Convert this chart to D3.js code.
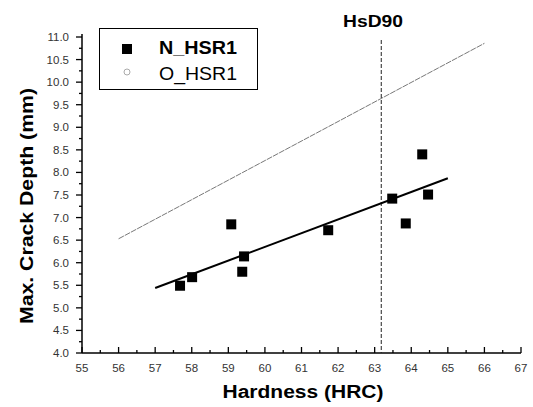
<!DOCTYPE html>
<html><head><meta charset="utf-8">
<script src="https://cdn.jsdelivr.net/npm/d3@7"></script>
<style>body{margin:0;background:#fff}svg{display:block}</style>
</head><body>
<script>
const hardness = [57.68, 58.01, 59.08, 59.38, 59.43, 61.73, 63.48, 63.85, 64.30, 64.46];
const crackDepth = [5.49, 5.68, 6.85, 5.80, 6.14, 6.72, 7.42, 6.87, 8.40, 7.51];
const fitX = [57, 65];
const fitY = [5.44, 7.87];
const oFitX = [56, 66];
const oFitY = [6.53, 10.86];
const hsd90 = 63.18;
const xTicks = [55,56,57,58,59,60,61,62,63,64,65,66,67];
const yTicks = [4.0,4.5,5.0,5.5,6.0,6.5,7.0,7.5,8.0,8.5,9.0,9.5,10.0,10.5,11.0];

const W = 533, H = 407;
const FF = "Liberation Sans, Arial, sans-serif";
const svg = d3.select("body").append("svg").attr("width", W).attr("height", H);
const x = d3.scaleLinear().domain([55, 67]).range([82, 521]);
const y = d3.scaleLinear().domain([4, 11]).range([353, 37]);

// x axis (ticks inward)
const gx = svg.append("g").attr("transform", "translate(0,353)");
gx.append("line").attr("x1", x(55)).attr("x2", x(67)).attr("stroke", "#000").attr("stroke-width", 1.5);
d3.range(55, 67.01, 0.5).forEach(v => {
  const major = Math.abs(v - Math.round(v)) < 1e-6;
  gx.append("line").attr("x1", x(v)).attr("x2", x(v)).attr("y1", 0).attr("y2", major ? -6 : -3)
    .attr("stroke", "#000").attr("stroke-width", 1.3);
});
gx.selectAll("text.xt").data(xTicks).join("text").attr("class","xt")
  .attr("x", d => x(d)).attr("y", 19).attr("text-anchor", "middle")
  .attr("font-family", FF).attr("font-size", 11.5).attr("fill", "#333")
  .text(d => d);

// y axis (ticks outward)
const gy = svg.append("g");
gy.append("line").attr("x1", 82).attr("x2", 82).attr("y1", 353).attr("y2", 34).attr("stroke", "#000").attr("stroke-width", 1.5);
d3.range(4, 11.01, 0.25).forEach(v => {
  const major = Math.abs(v * 2 - Math.round(v * 2)) < 1e-6;
  gy.append("line").attr("x1", 82).attr("x2", major ? 76 : 79).attr("y1", y(v)).attr("y2", y(v))
    .attr("stroke", "#000").attr("stroke-width", 1.3);
});
gy.selectAll("text.yt").data(yTicks).join("text").attr("class","yt")
  .attr("x", 69).attr("y", d => y(d) + 4).attr("text-anchor", "end")
  .attr("font-family", FF).attr("font-size", 11.5).attr("fill", "#333")
  .text(d => d.toFixed(1));

// titles
svg.append("text").attr("x", 303).attr("y", 398).attr("text-anchor", "middle")
  .attr("font-family", FF).attr("font-weight", "bold").attr("font-size", 18)
  .attr("textLength", 161).attr("lengthAdjust", "spacingAndGlyphs")
  .text("Hardness (HRC)");
svg.append("text").attr("transform", "translate(33,206) rotate(-90)").attr("text-anchor", "middle")
  .attr("font-family", FF).attr("font-weight", "bold").attr("font-size", 18)
  .attr("textLength", 236).attr("lengthAdjust", "spacingAndGlyphs")
  .text("Max. Crack Depth (mm)");

// O_HSR1 fit line
svg.append("line").attr("x1", x(oFitX[0])).attr("y1", y(oFitY[0])).attr("x2", x(oFitX[1])).attr("y2", y(oFitY[1]))
  .attr("stroke", "#555").attr("stroke-width", 0.8).attr("stroke-dasharray", "6,1");

// HsD90 vertical line
svg.append("line").attr("x1", x(hsd90)).attr("x2", x(hsd90)).attr("y1", 40).attr("y2", 353)
  .attr("stroke", "#222").attr("stroke-width", 1).attr("stroke-dasharray", "4,2");
svg.append("text").attr("x", 373).attr("y", 27).attr("text-anchor", "middle")
  .attr("font-family", FF).attr("font-weight", "bold").attr("font-size", 17)
  .attr("textLength", 60).attr("lengthAdjust", "spacingAndGlyphs")
  .text("HsD90");

// N_HSR1 fit
svg.append("line").attr("x1", x(fitX[0])).attr("y1", y(fitY[0])).attr("x2", x(fitX[1])).attr("y2", y(fitY[1]))
  .attr("stroke", "#000").attr("stroke-width", 2);

// points
const s = 10;
svg.selectAll("rect.pt").data(hardness).join("rect").attr("class", "pt")
  .attr("x", (d) => x(d) - s/2).attr("y", (d, i) => y(crackDepth[i]) - s/2)
  .attr("width", s).attr("height", s).attr("fill", "#000");

// legend
svg.append("rect").attr("x", 99.5).attr("y", 28.5).attr("width", 158).attr("height", 61)
  .attr("fill", "#fff").attr("stroke", "#000").attr("stroke-width", 1);
svg.append("rect").attr("x", 122).attr("y", 44).attr("width", 10).attr("height", 10).attr("fill", "#000");
svg.append("circle").attr("cx", 127).attr("cy", 72).attr("r", 3).attr("fill", "none").attr("stroke", "#aaa").attr("stroke-width", 1);
svg.append("text").attr("x", 159).attr("y", 54).attr("font-family", FF)
  .attr("font-weight", "bold").attr("font-size", 18)
  .attr("textLength", 78).attr("lengthAdjust", "spacingAndGlyphs").text("N_HSR1");
svg.append("text").attr("x", 159).attr("y", 80).attr("font-family", FF)
  .attr("font-size", 18)
  .attr("textLength", 78).attr("lengthAdjust", "spacingAndGlyphs").text("O_HSR1");
</script>
</body></html>
